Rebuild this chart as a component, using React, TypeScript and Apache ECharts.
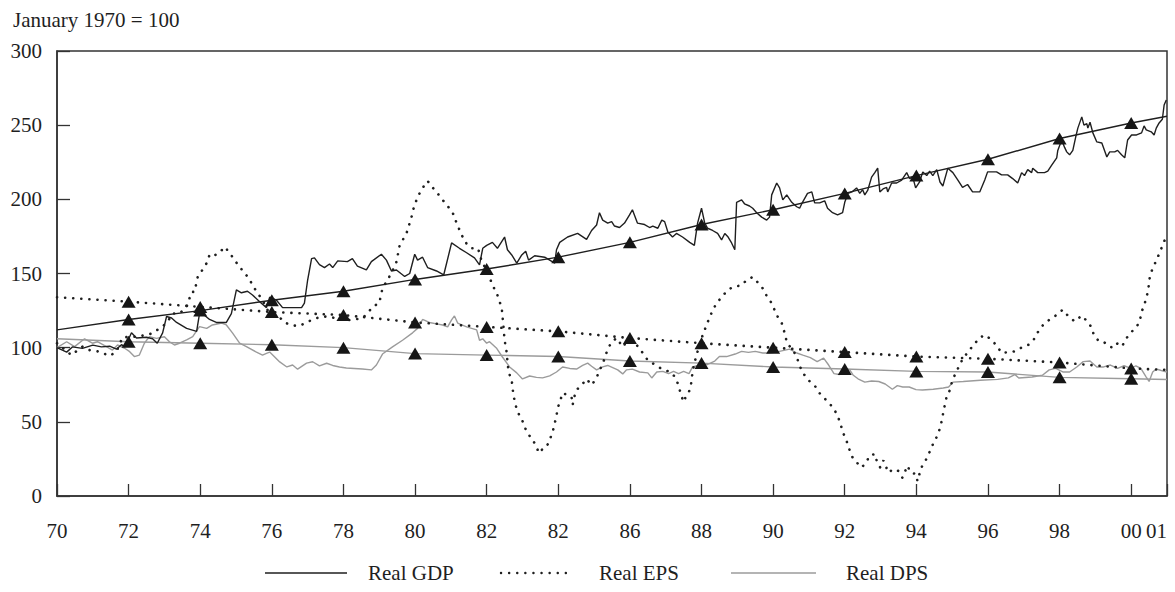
import { useEffect, useRef } from 'react';
import * as echarts from 'echarts';

const xTickLabels = ['70', '72', '74', '76', '78', '80', '82', '82', '86', '88', '90', '92', '94', '96', '98', '00', '01'];
const yTitle = 'January 1970 = 100';
const seriesNames = ['Real GDP', 'Real EPS', 'Real DPS'];

const gdp: number[][] = [
  [1970.00,100],[1970.27,97],[1970.43,100.5],[1970.71,99.5],[1971.00,101.7],[1971.24,100.5],[1971.47,101],[1971.66,99],[1971.80,102],[1971.90,100.5],[1972.08,110],[1972.22,106.5],[1972.50,107],[1972.67,106],[1972.80,103],[1972.95,110],[1973.06,121],[1973.20,120],[1973.34,117],[1973.62,113],[1973.90,111],[1973.98,123],[1974.06,123],[1974.26,119],[1974.45,117],[1974.73,117],[1974.87,123],[1975.01,139],[1975.15,137],[1975.32,138],[1975.46,135.5],[1975.66,131],[1975.85,127],[1975.94,134],[1976.13,132],[1976.30,127],[1976.49,127],[1976.83,127],[1976.91,130],[1977.00,145.6],[1977.11,160],[1977.19,160.5],[1977.33,156],[1977.47,154],[1977.61,156.4],[1977.70,154],[1977.84,158.5],[1978.11,158],[1978.25,160],[1978.39,155],[1978.64,152.4],[1978.78,158],[1979.06,163],[1979.20,159],[1979.34,151.7],[1979.48,152.4],[1979.71,148],[1979.85,150],[1979.99,163],[1980.07,159],[1980.21,161],[1980.35,154],[1980.60,151.7],[1980.80,149],[1981.02,170.6],[1981.24,167],[1981.44,164],[1981.66,160.5],[1981.80,155.8],[1981.89,167],[1982.00,169],[1982.16,171],[1982.30,167],[1982.50,174.6],[1982.58,166],[1982.70,162.5],[1982.84,157],[1982.98,162.5],[1983.09,165],[1983.17,159],[1983.34,162],[1983.62,161],[1983.90,157],[1983.95,166],[1984.04,171],[1984.26,174.6],[1984.54,177],[1984.79,173],[1984.93,179],[1985.07,182.7],[1985.15,191],[1985.24,186],[1985.38,184],[1985.49,185],[1985.57,182],[1985.71,181],[1985.85,184],[1985.99,189.5],[1986.07,193],[1986.21,184],[1986.41,183],[1986.55,181],[1986.64,182],[1986.78,180.5],[1986.89,186],[1986.97,185],[1987.06,178],[1987.19,174.6],[1987.30,177],[1987.47,174.6],[1987.67,171],[1987.80,169],[1987.89,184],[1988.00,194],[1988.09,184],[1988.17,180.5],[1988.31,179],[1988.45,177],[1988.56,172.6],[1988.65,177],[1988.73,175],[1988.84,170.6],[1988.93,166],[1988.98,198],[1989.12,199.6],[1989.20,197],[1989.34,195.5],[1989.43,194],[1989.54,191],[1989.68,188],[1989.82,186],[1989.90,188],[1989.96,203],[1990.10,211],[1990.18,207.7],[1990.27,199.6],[1990.38,203],[1990.52,198],[1990.66,195],[1990.74,194],[1990.82,198],[1990.96,204],[1991.08,205],[1991.16,197.6],[1991.30,197.6],[1991.44,199],[1991.52,194],[1991.66,191],[1991.80,189.5],[1991.94,191],[1992.00,198],[1992.09,204],[1992.20,205],[1992.33,207.7],[1992.42,204],[1992.50,206.5],[1992.56,203],[1992.64,206],[1992.75,215],[1992.84,218],[1992.92,221],[1992.98,205],[1993.07,207],[1993.17,208],[1993.20,205],[1993.31,211],[1993.45,211],[1993.59,213],[1993.73,218],[1993.81,214],[1993.90,215],[1993.98,207.7],[1994.09,211.7],[1994.18,218.5],[1994.29,216],[1994.37,219],[1994.46,216],[1994.57,220],[1994.66,211.7],[1994.74,209],[1994.88,221],[1995.02,218],[1995.16,213],[1995.29,208],[1995.43,210],[1995.57,205],[1995.77,205],[1995.91,213],[1995.99,218.5],[1996.24,218.5],[1996.38,216.5],[1996.55,216.5],[1996.69,214],[1996.83,211],[1996.94,218],[1997.02,216],[1997.11,220],[1997.22,218],[1997.25,221],[1997.39,218],[1997.58,218],[1997.67,219],[1997.78,223],[1997.92,228],[1997.95,233],[1998.06,240],[1998.14,235],[1998.20,232],[1998.28,230],[1998.37,233],[1998.45,242],[1998.51,248],[1998.62,255.6],[1998.68,250],[1998.76,251],[1998.79,248],[1998.85,252],[1998.93,244.8],[1999.04,238.7],[1999.18,238],[1999.32,228.6],[1999.40,232],[1999.54,232],[1999.62,233],[1999.73,230],[1999.82,228],[1999.90,240],[2000.01,243.4],[2000.15,243.4],[2000.29,244.8],[2000.36,249.5],[2000.42,246.8],[2000.56,245.5],[2000.64,243.4],[2000.70,248],[2000.78,251.5],[2000.87,254],[2000.92,263.6],[2000.98,267]
];

const eps: number[][] = [
  [1970.00,103],[1970.40,95],[1970.71,100.7],[1970.90,98.4],[1971.19,97.3],[1971.47,94.4],[1971.66,97.3],[1971.83,107],[1972.22,107.4],[1972.50,108.6],[1972.67,109.7],[1972.86,113],[1973.06,116.4],[1973.23,123],[1973.42,123],[1973.62,127.5],[1973.76,137.6],[1973.84,137.6],[1973.93,147.7],[1974.06,152.4],[1974.18,157],[1974.26,162.5],[1974.34,161.4],[1974.54,164],[1974.68,168],[1974.82,164],[1974.96,159],[1975.10,154.4],[1975.24,150.4],[1975.38,146],[1975.46,142],[1975.60,137],[1975.74,132],[1975.88,125.4],[1976.02,123],[1976.16,122],[1976.35,117],[1976.58,115],[1976.77,114.6],[1976.97,117],[1977.14,119],[1977.33,120.5],[1977.53,121],[1977.70,120.3],[1977.97,118.7],[1978.25,118.7],[1978.53,120],[1978.67,123],[1978.81,127.5],[1979.00,130],[1979.09,140],[1979.23,145.6],[1979.34,150.4],[1979.48,157.8],[1979.57,169],[1979.76,177],[1979.90,188],[1979.96,194],[1980.07,201.6],[1980.21,207.7],[1980.35,212.4],[1980.49,208],[1980.63,204],[1980.77,199.6],[1980.91,195.5],[1981.05,191],[1981.16,184],[1981.30,176],[1981.44,170],[1981.58,167],[1981.75,167],[1981.80,164],[1981.86,158],[1982.00,152.4],[1982.08,147.7],[1982.16,142],[1982.27,137.6],[1982.42,126.8],[1982.47,114],[1982.50,105],[1982.55,98.4],[1982.61,83.6],[1982.70,78.2],[1982.72,72.8],[1982.78,64],[1982.86,56.6],[1982.97,52.6],[1983.06,46.5],[1983.14,42.5],[1983.28,37.8],[1983.39,33.7],[1983.45,29],[1983.53,31],[1983.67,33],[1983.76,37.8],[1983.84,43],[1983.90,49],[1983.95,54],[1983.98,59],[1984.06,64.7],[1984.12,69.5],[1984.26,68],[1984.37,66.8],[1984.40,61.4],[1984.46,68],[1984.51,71.5],[1984.65,74.8],[1984.79,78.9],[1984.93,74.8],[1985.07,79.6],[1985.13,83.6],[1985.24,89],[1985.38,99],[1985.49,103.8],[1985.63,106.5],[1985.80,100.5],[1985.94,105],[1986.19,101.8],[1986.36,96.4],[1986.50,91.5],[1986.89,85.6],[1987.13,83.6],[1987.27,80],[1987.36,74.4],[1987.42,68.8],[1987.50,63.4],[1987.58,68],[1987.69,72],[1987.75,83.6],[1987.80,89.6],[1987.92,100],[1988.04,109],[1988.13,114.6],[1988.23,120.7],[1988.31,125],[1988.42,130],[1988.56,134],[1988.70,138],[1988.87,141],[1989.12,142],[1989.26,145.6],[1989.43,147.7],[1989.57,144],[1989.71,140],[1989.82,134.9],[1989.96,130],[1990.04,125.4],[1990.13,120.7],[1990.24,116.6],[1990.32,110],[1990.38,104],[1990.46,101],[1990.60,96.4],[1990.71,90.4],[1990.80,84],[1990.99,78],[1991.19,73.5],[1991.27,70],[1991.41,66.4],[1991.55,63],[1991.70,58.7],[1991.80,54],[1991.88,49],[1991.94,43.4],[1992.04,37.8],[1992.11,33],[1992.18,27.3],[1992.32,23],[1992.47,19.2],[1992.61,22.9],[1992.69,27.3],[1992.85,28.3],[1992.89,23.9],[1992.99,19.2],[1993.08,24],[1993.22,15.8],[1993.36,18.2],[1993.50,16.9],[1993.61,12.3],[1993.75,20.4],[1993.84,15.8],[1993.99,14.8],[1994.03,10.1],[1994.14,19.2],[1994.28,25],[1994.37,29.7],[1994.47,35.3],[1994.57,39.9],[1994.65,45],[1994.71,50.6],[1994.75,56],[1994.80,62],[1994.85,67.4],[1994.95,72],[1994.99,76.8],[1995.09,82.5],[1995.28,91.7],[1995.46,97.8],[1995.61,102],[1995.76,106.7],[1995.93,108.6],[1996.13,104.5],[1996.27,100.5],[1996.38,96.4],[1996.52,96.8],[1996.66,97],[1996.80,98],[1997.00,101],[1997.14,102],[1997.28,105.5],[1997.38,110],[1997.56,116],[1997.71,118.7],[1997.89,121.6],[1998.09,125.6],[1998.23,121.6],[1998.42,117.7],[1998.62,121.6],[1998.76,118],[1998.90,113.6],[1998.95,109],[1999.09,104.5],[1999.23,104],[1999.37,101],[1999.51,99.8],[1999.62,103],[1999.75,101],[1999.84,105.5],[1999.98,110],[2000.14,113.6],[2000.24,118],[2000.29,124],[2000.38,130],[2000.47,138],[2000.52,147.7],[2000.60,153.7],[2000.71,159],[2000.80,164.5],[2000.88,169],[2000.96,174]
];

const dps: number[][] = [
  [1970.00,100],[1970.27,104],[1970.49,100.7],[1970.77,106],[1970.99,103],[1971.13,104],[1971.38,100.7],[1971.55,98.4],[1971.69,101.8],[1971.89,99.6],[1972.03,97.3],[1972.16,94],[1972.30,95],[1972.44,103],[1972.58,107.4],[1972.78,106.3],[1973.00,107.4],[1973.14,104],[1973.28,101.8],[1973.42,103],[1973.62,105.2],[1973.79,107.4],[1973.98,114.2],[1974.18,113],[1974.34,115.3],[1974.60,116.6],[1974.73,115.3],[1974.90,110],[1975.10,103],[1975.29,100.7],[1975.57,97],[1975.74,95],[1975.85,96.2],[1975.94,97],[1976.08,93.7],[1976.22,90.4],[1976.42,87],[1976.58,88.3],[1976.72,85.5],[1976.97,89.6],[1977.14,90.5],[1977.33,87.7],[1977.53,89.5],[1977.70,88],[1977.89,87],[1978.08,86.3],[1978.30,86],[1978.53,85.6],[1978.78,85],[1978.92,88.3],[1979.09,95.7],[1979.37,100.5],[1979.65,105],[1979.93,110],[1980.07,113],[1980.21,119],[1980.40,117],[1980.60,116],[1980.77,115.3],[1980.91,114],[1981.02,118.7],[1981.10,121.4],[1981.19,116.6],[1981.44,114],[1981.72,112],[1981.80,105],[1981.89,106],[1982.00,103],[1982.08,104],[1982.27,99.8],[1982.44,93.7],[1982.64,87],[1982.84,83],[1983.00,78.9],[1983.20,80.9],[1983.39,80],[1983.56,79.6],[1983.76,81],[1983.95,83.6],[1984.12,87],[1984.32,86],[1984.51,85.6],[1984.68,88],[1984.82,89.6],[1984.93,87.5],[1985.07,85],[1985.24,87],[1985.38,88],[1985.52,86.5],[1985.66,85],[1985.80,82.3],[1985.90,85],[1986.07,85.5],[1986.27,83.6],[1986.50,83],[1986.61,79.6],[1986.75,83.6],[1986.92,84],[1987.08,82.5],[1987.22,84],[1987.36,82.5],[1987.50,84],[1987.65,82.5],[1987.75,87],[1987.95,88.3],[1988.17,88.7],[1988.37,91],[1988.50,94],[1988.70,94],[1988.94,95.7],[1989.12,97.5],[1989.31,96.8],[1989.50,97.5],[1989.71,96.4],[1989.90,96.4],[1990.08,97],[1990.27,98],[1990.46,99],[1990.66,96.4],[1990.83,95],[1991.04,93.3],[1991.23,90.6],[1991.41,93],[1991.55,88.3],[1991.70,82.5],[1991.85,81.9],[1991.99,86],[1992.14,85],[1992.23,81.6],[1992.37,79],[1992.56,76.8],[1992.75,77.5],[1992.95,77.2],[1993.13,75.5],[1993.33,72],[1993.47,74.4],[1993.62,73.5],[1993.80,73.5],[1993.99,71.7],[1994.17,71.5],[1994.47,72],[1994.75,72.8],[1994.90,73.5],[1995.03,76.8],[1995.31,77.2],[1995.79,78],[1996.27,78.6],[1996.57,79.6],[1996.75,81.9],[1996.86,79.6],[1997.23,80.2],[1997.52,81.4],[1997.71,85],[1997.89,86],[1998.09,83.6],[1998.28,83.6],[1998.48,87],[1998.66,90.6],[1998.85,91],[1999.04,87],[1999.23,87],[1999.42,88.3],[1999.62,86],[1999.80,87.8],[2000.00,86],[2000.13,87.8],[2000.27,86],[2000.42,80.2],[2000.50,77.2],[2000.60,83.6],[2000.70,85.6],[2000.84,84.6],[2001.00,83.6]
];

const trendYears = [1970, 1972, 1974, 1976, 1978, 1980, 1982, 1984, 1986, 1988, 1990, 1992, 1994, 1996, 1998, 2000, 2001];
const gdpTrend = [112, 119, 125, 132, 138, 146, 153, 161, 171, 183, 193, 204, 216, 227, 241, 251.5, 256];
const epsTrend = [134, 131, 127.5, 124, 122, 117, 114, 111, 106.5, 103, 100, 97, 94, 92.5, 90, 86, 85];
const dpsTrend = [106, 104, 103, 102, 100, 96, 95, 94, 91, 89.6, 87, 85.6, 84, 83.6, 80, 79, 78.5];

const FONT = '"Liberation Serif", "Times New Roman", serif';
const FS = 21;
const INK = '#1f1f1f';
const GRAY = '#9b9b9b';
const DOT: any = { color: INK, width: 2.6, type: [0.1, 8], cap: 'round' };

const pairs = (vals: number[]) => trendYears.map((y, i) => [y, vals[i]]);
const marks = (vals: number[]) => trendYears.slice(1, -1).map((y, i) => [y, vals[i + 1]]);

export default function App() {
  const ref = useRef<HTMLDivElement>(null);
  useEffect(() => {
    const chart = echarts.init(ref.current!, null, { renderer: 'svg' });
    const legendY = 573;
    chart.setOption({
      animation: false,
      backgroundColor: '#fff',
      title: {
        text: yTitle,
        left: 8,
        top: 4,
        textStyle: { fontFamily: FONT, fontSize: FS, fontWeight: 'normal', color: INK },
      },
      grid: { left: 57, right: 8, top: 51, bottom: 96, show: true, borderColor: '#333', borderWidth: 1.5, backgroundColor: 'transparent' },
      xAxis: {
        type: 'value',
        min: 1970,
        max: 2001,
        interval: 2,
        axisLine: { show: true, lineStyle: { color: '#333', width: 1.5 } },
        axisTick: { show: true, inside: true, length: 12, lineStyle: { color: '#333', width: 1.3 } },
        splitLine: { show: false },
        axisLabel: {
          fontFamily: FONT,
          fontSize: FS,
          color: INK,
          margin: 24,
          showMaxLabel: true,
          alignMaxLabel: 'right',
          formatter: (v: number) => xTickLabels[Math.round((v - 1970) / 2)] ?? '',
        },
      },
      yAxis: {
        type: 'value',
        min: 0,
        max: 300,
        interval: 50,
        axisLine: { show: true, lineStyle: { color: '#333', width: 1.5 } },
        axisTick: { show: true, inside: true, length: 13, lineStyle: { color: '#333', width: 1.3 } },
        splitLine: { show: false },
        axisLabel: { fontFamily: FONT, fontSize: FS, color: INK, margin: 15 },
      },
      series: [
        { name: seriesNames[2], type: 'line', data: dps, showSymbol: false, lineStyle: { color: GRAY, width: 1.4 }, z: 2 },
        { name: 'DPS trend', type: 'line', data: pairs(dpsTrend), showSymbol: false, lineStyle: { color: GRAY, width: 1.4 }, z: 2 },
        { name: 'EPS trend', type: 'line', data: pairs(epsTrend), showSymbol: false, lineStyle: DOT, z: 3 },
        { name: seriesNames[1], type: 'line', data: eps, showSymbol: false, lineStyle: DOT, z: 3 },
        { name: 'GDP trend', type: 'line', data: pairs(gdpTrend), showSymbol: false, lineStyle: { color: INK, width: 1.4 }, z: 4 },
        { name: seriesNames[0], type: 'line', data: gdp, showSymbol: false, lineStyle: { color: INK, width: 1.4 }, z: 4 },
        {
          type: 'scatter',
          data: [...marks(gdpTrend), ...marks(epsTrend), ...marks(dpsTrend)],
          symbol: 'triangle',
          symbolSize: [14, 12],
          itemStyle: { color: '#161616', opacity: 1 },
          z: 6,
        },
      ],
      graphic: [
        { type: 'line', shape: { x1: 265, y1: legendY, x2: 347, y2: legendY }, style: { stroke: INK, lineWidth: 1.4 } },
        { type: 'text', x: 368, y: legendY, style: { text: seriesNames[0], font: `${FS}px ${FONT}`, fill: INK, verticalAlign: 'middle' } },
        { type: 'line', shape: { x1: 501, y1: legendY, x2: 572, y2: legendY }, style: { stroke: INK, lineWidth: 2.4, lineDash: [0.1, 8], lineCap: 'round' } },
        { type: 'text', x: 599, y: legendY, style: { text: seriesNames[1], font: `${FS}px ${FONT}`, fill: INK, verticalAlign: 'middle' } },
        { type: 'line', shape: { x1: 731, y1: legendY, x2: 816, y2: legendY }, style: { stroke: GRAY, lineWidth: 1.4 } },
        { type: 'text', x: 846, y: legendY, style: { text: seriesNames[2], font: `${FS}px ${FONT}`, fill: INK, verticalAlign: 'middle' } },
      ],
    });
    return () => chart.dispose();
  }, []);
  return <div ref={ref} style={{ position: 'fixed', left: 0, top: 0, width: 1175, height: 592, background: '#fff' }} />;
}
